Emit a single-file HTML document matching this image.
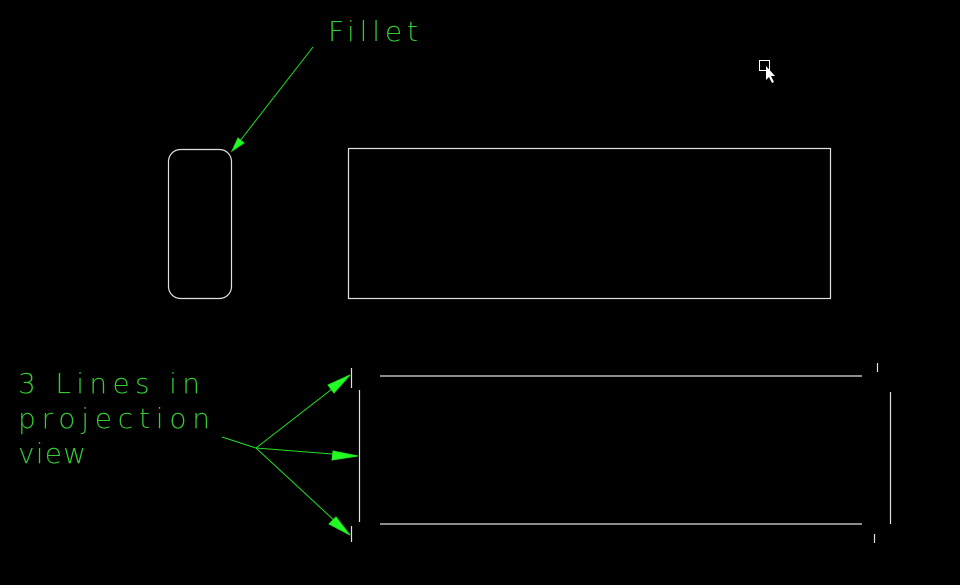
<!DOCTYPE html>
<html><head><style>
html,body{margin:0;padding:0;background:#000;width:960px;height:585px;overflow:hidden}
svg{display:block}
text{font-family:"DejaVu Sans","Liberation Sans",sans-serif;fill:#33cc33;font-weight:200}
</style></head><body>
<svg width="960" height="585" viewBox="0 0 960 585">
<g fill="none" stroke="#e0e0e0" stroke-width="1.2">
<rect x="168.5" y="149.5" width="63" height="149" rx="12"/>
<rect x="348.5" y="148.5" width="482" height="150"/>
<line x1="380" y1="376" x2="862" y2="376"/>
<line x1="380" y1="524" x2="862" y2="524"/>
<line x1="359.5" y1="390" x2="359.5" y2="522"/>
<line x1="890.5" y1="392" x2="890.5" y2="524"/>
<line x1="351.5" y1="368" x2="351.5" y2="388"/>
<line x1="351.5" y1="526" x2="351.5" y2="542"/>
<line x1="877.5" y1="363" x2="877.5" y2="372"/>
<line x1="874.5" y1="534" x2="874.5" y2="543"/>
</g>
<g stroke="#22dd22" stroke-width="1" fill="#22ff22">
<line x1="313" y1="47" x2="236" y2="146"/>
<polygon points="232,151 238,138 244,143"/>
<line x1="222" y1="437" x2="256" y2="448"/>
<line x1="256" y1="448" x2="350" y2="375"/>
<polygon points="350,375 334,393 328,385"/>
<line x1="256" y1="448" x2="358" y2="456"/>
<polygon points="358,456 332,460 333,451"/>
<line x1="256" y1="448" x2="350" y2="535"/>
<polygon points="350,535 329,524 336,517"/>
</g>
<text x="328" y="41" font-size="28" textLength="90" lengthAdjust="spacing">Fillet</text>
<text x="18" y="393" font-size="28" textLength="182" lengthAdjust="spacing">3 Lines in</text>
<text x="18" y="428" font-size="28" textLength="192" lengthAdjust="spacing">projection</text>
<text x="18" y="463" font-size="28" textLength="68" lengthAdjust="spacing">view</text>
<rect x="759.5" y="60.5" width="10" height="10" fill="none" stroke="#fff"/>
<polygon points="766,66 766,80 769,77 772,83 774,82 771,76 775,76" fill="#fff"/>
</svg>
</body></html>
